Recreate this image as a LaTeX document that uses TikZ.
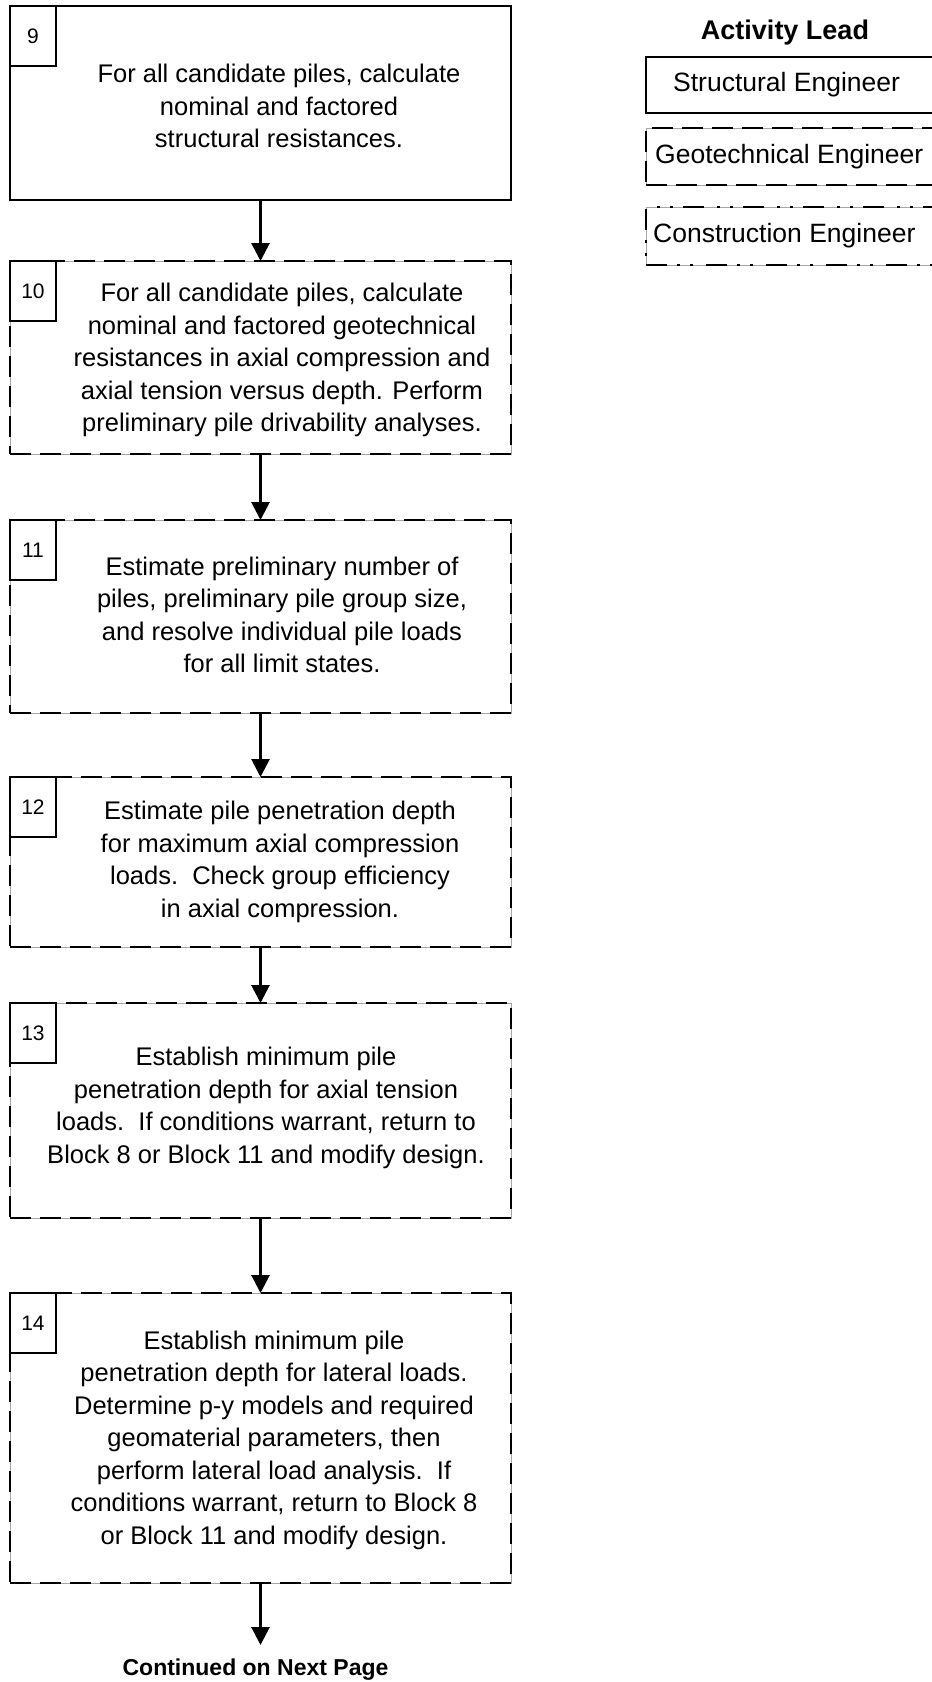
\documentclass[tikz,border=0pt]{standalone}
\usepackage{fontspec}
\setmainfont{Liberation Sans}
\usetikzlibrary{arrows.meta}
\begin{document}
\begin{tikzpicture}[x=1pt,y=-1pt,
  box/.style={draw, line width=2.8pt, minimum width=501pt, inner sep=0pt, outer sep=0pt},
  geobox/.style={box, dash pattern=on 21pt off 9pt, preaction={draw=black!35, line width=0.6pt, solid}},
  numbox/.style={draw, line width=2.8pt, minimum width=46pt, minimum height=60pt, inner sep=0pt, outer sep=0pt, anchor=north west, fill=white, font=\fontsize{21}{24}\selectfont},
  body/.style={align=center, inner sep=0pt, font=\fontsize{25.5}{32.5}\selectfont},
  legbox/.style={draw, line width=2.8pt, minimum width=330pt, inner sep=0pt, outer sep=0pt, anchor=north west},
  legtext/.style={anchor=west, inner sep=0pt, font=\fontsize{26.5}{30}\selectfont},
  arr/.style={line width=2.8pt, -{Triangle[width=18pt,length=18pt]}},
]
\useasboundingbox (0,0) rectangle (932,1682);
\clip (0,0) rectangle (932,1682);

% flow boxes
\node[box, minimum height=194pt] (b9) at (260.5,103) {};
\node[geobox, minimum height=193pt] (b10) at (260.5,357.5) {};
\node[geobox, minimum height=193pt] (b11) at (260.5,616.5) {};
\node[geobox, minimum height=170pt] (b12) at (260.5,862) {};
\node[geobox, minimum height=215pt] (b13) at (260.5,1110.5) {};
\node[geobox, minimum height=290pt] (b14) at (260.5,1438) {};

% number boxes
\node[numbox] (n9) at (b9.north west) {9};
\node[numbox] (n10) at (b10.north west) {10};
\node[numbox] (n11) at (b11.north west) {11};
\node[numbox] (n12) at (b12.north west) {12};
\node[numbox] (n13) at (b13.north west) {13};
\node[numbox] (n14) at (b14.north west) {14};

% texts
\node[body] (t9) at (279,106) {For all candidate piles, calculate\\nominal and factored\\structural resistances.};
\node[body] (t10) at (282,360) {For all candidate piles, calculate\\nominal and factored geotechnical\\resistances in axial compression and\\axial tension versus depth. Perform\\preliminary pile drivability analyses.};
\node[body] (t11) at (282,615) {Estimate preliminary number of\\piles, preliminary pile group size,\\and resolve individual pile loads\\for all limit states.};
\node[body] (t12) at (280,862) {Estimate pile penetration depth\\for maximum axial compression\\loads.\ \ Check group efficiency\\in axial compression.};
\node[body] (t13) at (266,1108) {Establish minimum pile\\penetration depth for axial tension\\loads.\ \ If conditions warrant, return to\\Block 8 or Block 11 and modify design.};
\node[body] (t14) at (274,1440) {Establish minimum pile\\penetration depth for lateral loads.\\Determine p-y models and required\\geomaterial parameters, then\\perform lateral load analysis.\ \ If\\conditions warrant, return to Block 8\\or Block 11 and modify design.};

% connectors
\coordinate (end) at (260.5,1645);
\draw[arr] (b9.south) -- (b10.north);
\draw[arr] (b10.south) -- (b11.north);
\draw[arr] (b11.south) -- (b12.north);
\draw[arr] (b12.south) -- (b13.north);
\draw[arr] (b13.south) -- (b14.north);
\draw[arr] (b14.south) -- (end);
\node[font=\fontsize{23}{26}\selectfont\bfseries, inner sep=0pt] (cont) at (255.5,1670) {Continued on Next Page};

% legend
\node[font=\fontsize{27}{30}\selectfont\bfseries, inner sep=0pt] (lead) at (785,33) {Activity Lead};
\node[legbox, minimum height=56pt] (ls) at (646,57) {};
\node[legbox, minimum height=57pt, dash pattern=on 21pt off 9pt, preaction={draw=black!35, line width=0.6pt, solid}] (lg) at (646,128) {};
\node[legbox, minimum height=58pt, dash pattern=on 21pt off 10pt on 3pt off 10pt on 3pt off 13pt, preaction={draw=black!35, line width=0.6pt, solid}] (lc) at (646,207) {};
\node[legtext] (lst) at (673,85) {Structural Engineer};
\node[legtext] (lgt) at (655,157) {Geotechnical Engineer};
\node[legtext] (lct) at (653,236) {Construction Engineer};
\end{tikzpicture}
\end{document}
